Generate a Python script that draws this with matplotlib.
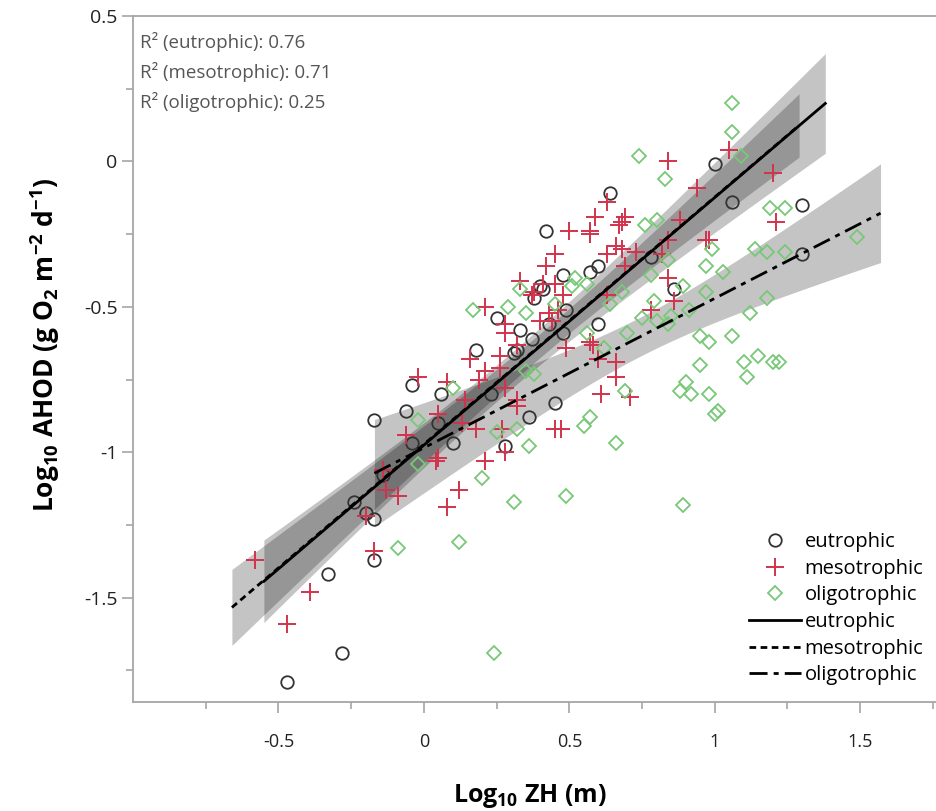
import numpy as np
import matplotlib.pyplot as plt
from matplotlib.lines import Line2D

plt.rcParams['font.family'] = ['Open Sans', 'DejaVu Sans']
plt.rcParams['mathtext.default'] = 'regular'

# Log10 ZH (m) and Log10 AHOD (g O2 m-2 d-1) per trophic state
eu_x = [-0.47, -0.28, -0.33, -0.17, -0.17, -0.24, -0.20, -0.14, -0.17, -0.04,
        -0.06, 0.06, 0.05, -0.04, 0.10, 0.18, 0.25, 0.33, 0.31, 0.32,
        0.23, 0.28, 0.36, 0.38, 0.37, 0.42, 0.64, 1.00, 1.06, 1.30,
        1.30, 0.48, 0.57, 0.60, 0.40, 0.41, 0.78, 0.86, 0.48, 0.60,
        0.43, 0.45, 0.49]
eu_y = [-1.79, -1.69, -1.42, -1.37, -1.23, -1.17, -1.21, -1.08, -0.89, -0.77,
        -0.86, -0.80, -0.90, -0.97, -0.97, -0.65, -0.54, -0.58, -0.66, -0.65,
        -0.80, -0.98, -0.88, -0.47, -0.61, -0.24, -0.11, -0.01, -0.14, -0.15,
        -0.32, -0.39, -0.38, -0.36, -0.43, -0.44, -0.33, -0.44, -0.59, -0.56,
        -0.56, -0.83, -0.51]

meso_x = [-0.58, -0.39, -0.47, -0.17, -0.20, -0.06, 0.05, 0.14, 0.13, 0.18,
          0.16, 0.21, 0.19, 0.26, 0.28, 0.28, 0.26, 0.28, 0.32, 0.32,
          0.27, 0.28, 0.21, 0.04, 0.05, -0.14, -0.13, -0.09, 0.12, 0.08,
          0.21, 0.32, -0.02, 0.08, 0.84, 1.05, 0.94, 1.20, 0.63, 1.21,
          0.59, 0.68, 0.69, 0.50, 0.57, 0.57, 0.88, 0.97, 0.98, 0.45,
          0.66, 0.68, 0.63, 0.73, 0.84, 0.82, 0.42, 0.33, 0.41, 0.45,
          0.84, 0.86, 0.78, 0.66, 0.66, 0.60, 0.57, 0.58, 0.49, 0.40,
          0.46, 0.43, 0.61, 0.71, 0.45, 0.47, 0.67, 0.69, 0.48, 0.37,
          0.38, 0.44, 0.63]
meso_y = [-1.37, -1.48, -1.59, -1.34, -1.22, -0.94, -0.87, -0.82, -0.90, -0.92,
          -0.68, -0.72, -0.75, -0.67, -0.56, -0.59, -0.71, -0.78, -0.82, -0.84,
          -0.92, -1.00, -1.03, -1.03, -1.02, -1.06, -1.13, -1.15, -1.13, -1.19,
          -0.50, -0.63, -0.74, -0.76, 0.00, 0.04, -0.09, -0.04, -0.14, -0.21,
          -0.19, -0.21, -0.19, -0.24, -0.24, -0.25, -0.20, -0.27, -0.27, -0.32,
          -0.29, -0.30, -0.32, -0.31, -0.27, -0.32, -0.36, -0.41, -0.42, -0.42,
          -0.40, -0.48, -0.51, -0.69, -0.74, -0.68, -0.62, -0.63, -0.64, -0.55,
          -0.51, -0.52, -0.80, -0.81, -0.92, -0.92, -0.22, -0.36, -0.46, -0.46,
          -0.45, -0.55, -0.46]

oligo_x = [-0.09, 0.12, 0.24, -0.02, 0.10, -0.02, 0.17, 0.29, 0.35, 0.35,
           0.25, 0.32, 0.36, 0.20, 0.31, 1.06, 1.06, 1.09, 0.74, 0.83,
           1.19, 1.24, 0.76, 0.80, 0.99, 1.14, 1.18, 1.24, 1.49, 0.84,
           0.97, 1.03, 0.78, 0.33, 0.52, 0.56, 0.51, 0.89, 0.97, 1.18,
           1.12, 0.79, 0.75, 0.80, 0.84, 0.85, 0.91, 0.70, 0.95, 0.98,
           1.06, 0.95, 1.10, 1.15, 1.20, 1.22, 1.11, 0.62, 0.56, 0.64,
           0.68, 0.38, 0.88, 0.90, 0.92, 0.98, 1.00, 1.01, 0.69, 0.57,
           0.55, 0.66, 0.49, 0.89, 0.45]
oligo_y = [-1.33, -1.31, -1.69, -0.89, -0.78, -1.04, -0.51, -0.50, -0.52, -0.72,
           -0.93, -0.92, -0.98, -1.09, -1.17, 0.20, 0.10, 0.02, 0.02, -0.06,
           -0.16, -0.16, -0.22, -0.20, -0.30, -0.30, -0.31, -0.31, -0.26, -0.34,
           -0.36, -0.38, -0.39, -0.44, -0.40, -0.42, -0.43, -0.43, -0.45, -0.47,
           -0.52, -0.48, -0.54, -0.55, -0.56, -0.53, -0.51, -0.59, -0.60, -0.62,
           -0.60, -0.70, -0.69, -0.67, -0.69, -0.69, -0.74, -0.64, -0.59, -0.49,
           -0.45, -0.73, -0.79, -0.76, -0.80, -0.80, -0.87, -0.86, -0.79, -0.88,
           -0.91, -0.97, -1.15, -1.18, -0.49]

groups = ['eutrophic', 'mesotrophic', 'oligotrophic']
r2_values = [0.76, 0.71, 0.25]

T_CRIT = 2.0      # ~95% two-sided t for these sample sizes
LINE_PAD = 0.08   # fit line drawn a little past the data range


def fit_with_band(x, y):
    """Least-squares line with a confidence band for the mean response."""
    x = np.asarray(x, dtype=float)
    y = np.asarray(y, dtype=float)
    slope, intercept = np.polyfit(x, y, 1)
    resid = y - (slope * x + intercept)
    n = len(x)
    s = np.sqrt(np.sum(resid ** 2) / (n - 2))
    sxx = np.sum((x - x.mean()) ** 2)
    xs = np.linspace(x.min() - LINE_PAD, x.max() + LINE_PAD, 200)
    fit = slope * xs + intercept
    half = T_CRIT * s * np.sqrt(1.0 / n + (xs - x.mean()) ** 2 / sxx)
    return xs, fit, half


fig = plt.figure(figsize=(9.37, 8.11), dpi=100)
ax = fig.add_axes([133 / 937, 109 / 811, 829 / 937, 686 / 811])

data = [(eu_x, eu_y), (meso_x, meso_y), (oligo_x, oligo_y)]
line_styles = [
    dict(linestyle='-'),
    dict(linestyle=(0, (2.4, 1.6))),
    dict(linestyle=(0, (6.5, 2.2, 1.8, 2.2))),
]

# confidence bands underneath everything
fits = []
for x, y in data:
    xs, fit, half = fit_with_band(x, y)
    fits.append((xs, fit))
    ax.fill_between(xs, fit - half, fit + half, color='black', alpha=0.23,
                    linewidth=0, zorder=1)

# scatter points
ax.plot(eu_x, eu_y, 'o', mfc='none', mec='#333333', ms=9, mew=1.3, zorder=3)
ax.plot(meso_x, meso_y, '+', color='#d2334d', ms=13, mew=1.4, zorder=3)
ax.plot(oligo_x, oligo_y, 'D', mfc='none', mec='#78c878', ms=7.5, mew=1.3, zorder=3)

# regression lines
for (xs, fit), st in zip(fits, line_styles):
    ax.plot(xs, fit, color='black', linewidth=2.0, zorder=4, **st)

ax.set_xlim(-1.0, 1.85)
ax.set_ylim(-1.859, 0.5)

ax.set_xticks([-0.5, 0, 0.5, 1, 1.5])
ax.set_xticklabels(['-0.5', '0', '0.5', '1', '1.5'])
ax.set_xticks([-0.75, -0.25, 0.25, 0.75, 1.25, 1.75], minor=True)
ax.set_yticks([-1.5, -1, -0.5, 0, 0.5])
ax.set_yticklabels(['-1.5', '-1', '-0.5', '0', '0.5'])
ax.set_yticks([-1.75, -1.25, -0.75, -0.25, 0.25], minor=True)

for side in ['top', 'left', 'bottom']:
    ax.spines[side].set_color('#a6a6a6')
    ax.spines[side].set_linewidth(1.3)
ax.spines['right'].set_visible(False)
ax.tick_params(which='both', direction='out', color='#a6a6a6', width=1.2,
               labelcolor='#222222')
ax.tick_params(which='major', length=8)
ax.tick_params(which='minor', length=5)
ax.tick_params(axis='x', pad=14, labelsize=13)
ax.tick_params(axis='y', pad=3, labelsize=14)

ax.set_xlabel('Log$_{10}$ ZH (m)', fontsize=18, fontweight='bold')
ax.set_ylabel('Log$_{10}$ AHOD (g O$_2$ m$^{-2}$ d$^{-1}$)', fontsize=19,
              fontweight='bold')
ax.xaxis.set_label_coords(0.479, -0.117)
ax.yaxis.set_label_coords(-0.086, 0.52)

# R² annotations
for i, (g, r2) in enumerate(zip(groups, r2_values)):
    ax.text(0.009, 0.962 - i * 0.0437, f'R\u00b2 ({g}): {r2:.2f}',
            transform=ax.transAxes, fontsize=13.5, color='#555555',
            va='center', ha='left')

handles = [
    Line2D([], [], marker='o', linestyle='none', mfc='none', mec='#333333', ms=9, mew=1.3),
    Line2D([], [], marker='+', linestyle='none', color='#d2334d', ms=13, mew=1.4),
    Line2D([], [], marker='D', linestyle='none', mfc='none', mec='#78c878', ms=7.5, mew=1.3),
]
for st in line_styles:
    handles.append(Line2D([], [], color='black', linewidth=2.0, **st))
labels = groups + groups
ax.legend(handles, labels, loc='upper left',
          bbox_to_anchor=(749 / 937, 1 - 532 / 811), bbox_transform=fig.transFigure,
          frameon=False, fontsize=14.5, handlelength=2.6, handletextpad=0.15,
          labelspacing=0.33, borderpad=0, borderaxespad=0)

fig.savefig('out.png', dpi=100)
